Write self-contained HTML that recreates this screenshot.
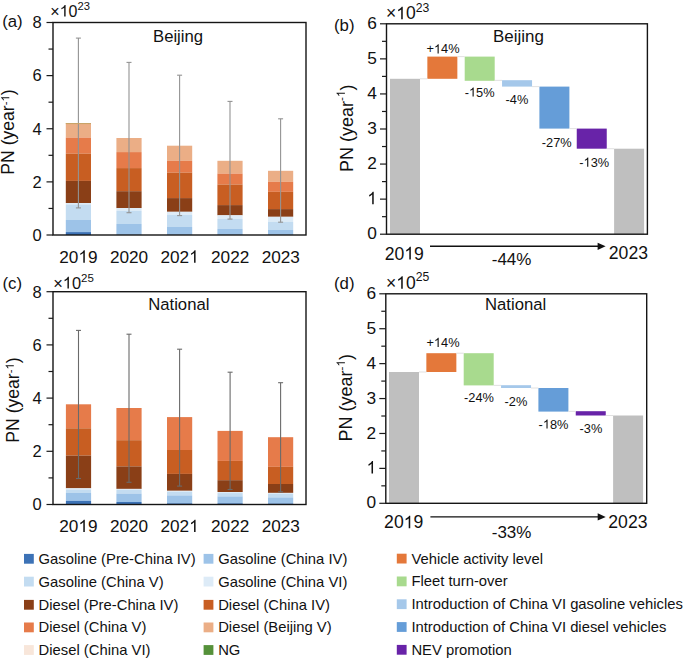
<!DOCTYPE html>
<html><head><meta charset="utf-8"><style>html,body{margin:0;padding:0;background:#fff}svg{display:block}.one{fill:transparent}</style></head><body>
<svg width="685" height="659" viewBox="0 0 685 659" font-family='"Liberation Sans", sans-serif' fill="#111">
<rect width="685" height="659" fill="#fff"/>
<rect x="65.8" y="123.00" width="25.2" height="14.60" fill="#EBAE86"/>
<rect x="65.8" y="137.60" width="25.2" height="16.10" fill="#E67B4A"/>
<rect x="65.8" y="153.70" width="25.2" height="27.20" fill="#C85E22"/>
<rect x="65.8" y="180.90" width="25.2" height="22.10" fill="#8A3F17"/>
<rect x="65.8" y="203.00" width="25.2" height="1.40" fill="#DDEBF7"/>
<rect x="65.8" y="204.40" width="25.2" height="15.60" fill="#C3DCF1"/>
<rect x="65.8" y="220.00" width="25.2" height="12.10" fill="#9DC3E8"/>
<rect x="65.8" y="232.10" width="25.2" height="2.90" fill="#3C72B6"/>
<rect x="116.4" y="138.00" width="25.2" height="14.10" fill="#EBAE86"/>
<rect x="116.4" y="152.10" width="25.2" height="16.00" fill="#E67B4A"/>
<rect x="116.4" y="168.10" width="25.2" height="23.10" fill="#C85E22"/>
<rect x="116.4" y="191.20" width="25.2" height="16.90" fill="#8A3F17"/>
<rect x="116.4" y="208.10" width="25.2" height="2.80" fill="#DDEBF7"/>
<rect x="116.4" y="210.90" width="25.2" height="13.10" fill="#C3DCF1"/>
<rect x="116.4" y="224.00" width="25.2" height="11.00" fill="#9DC3E8"/>
<rect x="167.0" y="145.70" width="25.2" height="15.10" fill="#EBAE86"/>
<rect x="167.0" y="160.80" width="25.2" height="11.80" fill="#E67B4A"/>
<rect x="167.0" y="172.60" width="25.2" height="25.50" fill="#C85E22"/>
<rect x="167.0" y="198.10" width="25.2" height="13.70" fill="#8A3F17"/>
<rect x="167.0" y="211.80" width="25.2" height="3.10" fill="#DDEBF7"/>
<rect x="167.0" y="214.90" width="25.2" height="12.00" fill="#C3DCF1"/>
<rect x="167.0" y="226.90" width="25.2" height="8.10" fill="#9DC3E8"/>
<rect x="217.4" y="160.80" width="25.2" height="12.80" fill="#EBAE86"/>
<rect x="217.4" y="173.60" width="25.2" height="10.90" fill="#E67B4A"/>
<rect x="217.4" y="184.50" width="25.2" height="20.60" fill="#C85E22"/>
<rect x="217.4" y="205.10" width="25.2" height="10.20" fill="#8A3F17"/>
<rect x="217.4" y="215.30" width="25.2" height="3.60" fill="#DDEBF7"/>
<rect x="217.4" y="218.90" width="25.2" height="9.90" fill="#C3DCF1"/>
<rect x="217.4" y="228.80" width="25.2" height="6.20" fill="#9DC3E8"/>
<rect x="268.0" y="170.80" width="25.2" height="11.00" fill="#EBAE86"/>
<rect x="268.0" y="181.80" width="25.2" height="10.00" fill="#E67B4A"/>
<rect x="268.0" y="191.80" width="25.2" height="17.30" fill="#C85E22"/>
<rect x="268.0" y="209.10" width="25.2" height="7.70" fill="#8A3F17"/>
<rect x="268.0" y="216.80" width="25.2" height="5.00" fill="#DDEBF7"/>
<rect x="268.0" y="221.80" width="25.2" height="8.10" fill="#C3DCF1"/>
<rect x="268.0" y="229.90" width="25.2" height="5.10" fill="#9DC3E8"/>
<line x1="78.4" y1="38.1" x2="78.4" y2="207.9" stroke="#939393" stroke-width="1.1"/>
<line x1="75.9" y1="38.1" x2="80.9" y2="38.1" stroke="#939393" stroke-width="1.1"/>
<line x1="75.9" y1="207.9" x2="80.9" y2="207.9" stroke="#939393" stroke-width="1.1"/>
<line x1="129.0" y1="62.4" x2="129.0" y2="212.7" stroke="#939393" stroke-width="1.1"/>
<line x1="126.5" y1="62.4" x2="131.5" y2="62.4" stroke="#939393" stroke-width="1.1"/>
<line x1="126.5" y1="212.7" x2="131.5" y2="212.7" stroke="#939393" stroke-width="1.1"/>
<line x1="179.6" y1="75.2" x2="179.6" y2="215.6" stroke="#939393" stroke-width="1.1"/>
<line x1="177.1" y1="75.2" x2="182.1" y2="75.2" stroke="#939393" stroke-width="1.1"/>
<line x1="177.1" y1="215.6" x2="182.1" y2="215.6" stroke="#939393" stroke-width="1.1"/>
<line x1="230.0" y1="101.4" x2="230.0" y2="219.1" stroke="#939393" stroke-width="1.1"/>
<line x1="227.5" y1="101.4" x2="232.5" y2="101.4" stroke="#939393" stroke-width="1.1"/>
<line x1="227.5" y1="219.1" x2="232.5" y2="219.1" stroke="#939393" stroke-width="1.1"/>
<line x1="280.6" y1="118.8" x2="280.6" y2="222.2" stroke="#939393" stroke-width="1.1"/>
<line x1="278.1" y1="118.8" x2="283.1" y2="118.8" stroke="#939393" stroke-width="1.1"/>
<line x1="278.1" y1="222.2" x2="283.1" y2="222.2" stroke="#939393" stroke-width="1.1"/>
<rect x="65.8" y="123.0" width="25.2" height="1.1" fill="#C9A468"/>
<rect x="53" y="22.5" width="253" height="212.5" fill="none" stroke="#151515" stroke-width="1.4"/>
<line x1="46.5" y1="235.00" x2="53" y2="235.00" stroke="#1a1a1a" stroke-width="1.2"/>
<text x="41.8" y="240.86" font-size="16.5" text-anchor="end" >0</text>
<line x1="46.5" y1="181.88" x2="53" y2="181.88" stroke="#1a1a1a" stroke-width="1.2"/>
<text x="41.8" y="187.73" font-size="16.5" text-anchor="end" >2</text>
<line x1="46.5" y1="128.75" x2="53" y2="128.75" stroke="#1a1a1a" stroke-width="1.2"/>
<text x="41.8" y="134.61" font-size="16.5" text-anchor="end" >4</text>
<line x1="46.5" y1="75.62" x2="53" y2="75.62" stroke="#1a1a1a" stroke-width="1.2"/>
<text x="41.8" y="81.48" font-size="16.5" text-anchor="end" >6</text>
<line x1="46.5" y1="22.50" x2="53" y2="22.50" stroke="#1a1a1a" stroke-width="1.2"/>
<text x="41.8" y="28.36" font-size="16.5" text-anchor="end" >8</text>
<line x1="48.5" y1="208.44" x2="53" y2="208.44" stroke="#1a1a1a" stroke-width="1.2"/>
<line x1="48.5" y1="155.31" x2="53" y2="155.31" stroke="#1a1a1a" stroke-width="1.2"/>
<line x1="48.5" y1="102.19" x2="53" y2="102.19" stroke="#1a1a1a" stroke-width="1.2"/>
<line x1="48.5" y1="49.06" x2="53" y2="49.06" stroke="#1a1a1a" stroke-width="1.2"/>
<text x="78.4" y="262.7" font-size="17.2" text-anchor="middle" >20<tspan class="one">1</tspan>9</text>
<text x="129.0" y="262.7" font-size="17.2" text-anchor="middle" >2020</text>
<text x="179.6" y="262.7" font-size="17.2" text-anchor="middle" >202<tspan class="one">1</tspan></text>
<text x="230.2" y="262.7" font-size="17.2" text-anchor="middle" >2022</text>
<text x="280.8" y="262.7" font-size="17.2" text-anchor="middle" >2023</text>
<text x="153.0" y="41.8" font-size="16.7" text-anchor="start" >Beijing</text>
<text x="50.3" y="16.6" font-size="16">×<tspan class="one">1</tspan>0<tspan font-size="11.2" dy="-6.7">23</tspan></text>
<text x="2.2" y="27.2" font-size="16.8" text-anchor="start" >(a)</text>
<text transform="translate(14.2,132) rotate(-90)" font-size="17.6" text-anchor="middle">PN (year<tspan font-size="11.4" dy="-4.9">-<tspan class="one">1</tspan></tspan><tspan dy="4.9">)</tspan></text>
<rect x="390.0" y="78.80" width="30" height="155.40" fill="#BFBFBF"/>
<rect x="427.35" y="56.60" width="30" height="22.20" fill="#E4783A"/>
<rect x="464.7" y="56.60" width="30" height="24.20" fill="#A8DA8E"/>
<rect x="502.05" y="80.20" width="30" height="6.40" fill="#A5C8EA"/>
<rect x="539.4" y="86.60" width="30" height="42.00" fill="#659DD8"/>
<rect x="576.75" y="128.60" width="30" height="20.10" fill="#6823A8"/>
<rect x="614.1" y="148.70" width="30" height="85.50" fill="#BFBFBF"/>
<line x1="420" y1="78.8" x2="427.4" y2="78.8" stroke="#d9d9d9" stroke-width="0.8"/>
<line x1="457.4" y1="56.6" x2="464.7" y2="56.6" stroke="#d9d9d9" stroke-width="0.8"/>
<line x1="494.7" y1="80.4" x2="502" y2="80.4" stroke="#d9d9d9" stroke-width="0.8"/>
<line x1="532" y1="86.6" x2="539.4" y2="86.6" stroke="#d9d9d9" stroke-width="0.8"/>
<line x1="569.4" y1="128.6" x2="576.7" y2="128.6" stroke="#d9d9d9" stroke-width="0.8"/>
<line x1="606.8" y1="148.7" x2="614" y2="148.7" stroke="#d9d9d9" stroke-width="0.8"/>
<rect x="386.5" y="23.8" width="260.9" height="210.39999999999998" fill="none" stroke="#151515" stroke-width="1.4"/>
<line x1="380.0" y1="234.20" x2="386.5" y2="234.20" stroke="#1a1a1a" stroke-width="1.2"/>
<text x="376.9" y="239.34" font-size="17.3" text-anchor="end" >0</text>
<line x1="380.0" y1="199.13" x2="386.5" y2="199.13" stroke="#1a1a1a" stroke-width="1.2"/>
<text x="376.9" y="204.27" font-size="17.3" text-anchor="end" ><tspan class="one">1</tspan></text>
<line x1="380.0" y1="164.07" x2="386.5" y2="164.07" stroke="#1a1a1a" stroke-width="1.2"/>
<text x="376.9" y="169.21" font-size="17.3" text-anchor="end" >2</text>
<line x1="380.0" y1="129.00" x2="386.5" y2="129.00" stroke="#1a1a1a" stroke-width="1.2"/>
<text x="376.9" y="134.14" font-size="17.3" text-anchor="end" >3</text>
<line x1="380.0" y1="93.93" x2="386.5" y2="93.93" stroke="#1a1a1a" stroke-width="1.2"/>
<text x="376.9" y="99.07" font-size="17.3" text-anchor="end" >4</text>
<line x1="380.0" y1="58.87" x2="386.5" y2="58.87" stroke="#1a1a1a" stroke-width="1.2"/>
<text x="376.9" y="64.01" font-size="17.3" text-anchor="end" >5</text>
<line x1="380.0" y1="23.80" x2="386.5" y2="23.80" stroke="#1a1a1a" stroke-width="1.2"/>
<text x="376.9" y="28.94" font-size="17.3" text-anchor="end" >6</text>
<line x1="382.0" y1="216.67" x2="386.5" y2="216.67" stroke="#1a1a1a" stroke-width="1.2"/>
<line x1="382.0" y1="181.60" x2="386.5" y2="181.60" stroke="#1a1a1a" stroke-width="1.2"/>
<line x1="382.0" y1="146.53" x2="386.5" y2="146.53" stroke="#1a1a1a" stroke-width="1.2"/>
<line x1="382.0" y1="111.47" x2="386.5" y2="111.47" stroke="#1a1a1a" stroke-width="1.2"/>
<line x1="382.0" y1="76.40" x2="386.5" y2="76.40" stroke="#1a1a1a" stroke-width="1.2"/>
<line x1="382.0" y1="41.33" x2="386.5" y2="41.33" stroke="#1a1a1a" stroke-width="1.2"/>
<text x="404.3" y="259.5" font-size="17.6" text-anchor="middle" >20<tspan class="one">1</tspan>9</text>
<text x="628.4" y="259.4" font-size="17.6" text-anchor="middle" >2023</text>
<text x="511.6" y="265" font-size="17" text-anchor="middle" >-44%</text>
<line x1="430" y1="246.3" x2="599.6" y2="246.3" stroke="#111" stroke-width="1.4"/>
<path d="M597.6,242.70000000000002 L605.6,246.3 L597.6,249.9 Z" fill="#111"/>
<text x="493.0" y="41.7" font-size="16.95" text-anchor="start" >Beijing</text>
<text x="386" y="19.2" font-size="17.5">×<tspan class="one">1</tspan>0<tspan font-size="12.2" dy="-7.3">23</tspan></text>
<text x="334" y="31.3" font-size="16.8" text-anchor="start" >(b)</text>
<text transform="translate(352.8,128.3) rotate(-90)" font-size="18" text-anchor="middle">PN (year<tspan font-size="11.7" dy="-7.9">-<tspan class="one">1</tspan></tspan><tspan dy="7.9">)</tspan></text>
<text x="443" y="53.4" font-size="12.8" text-anchor="middle" >+<tspan class="one">1</tspan>4%</text>
<text x="479.6" y="96.6" font-size="12.8" text-anchor="middle" >-<tspan class="one">1</tspan>5%</text>
<text x="517" y="104.4" font-size="12.8" text-anchor="middle" >-4%</text>
<text x="556.8" y="147" font-size="12.8" text-anchor="middle" >-27%</text>
<text x="594.2" y="166.7" font-size="12.8" text-anchor="middle" >-<tspan class="one">1</tspan>3%</text>
<rect x="65.9" y="404.30" width="25.2" height="24.00" fill="#E67B4A"/>
<rect x="65.9" y="428.30" width="25.2" height="27.30" fill="#C85E22"/>
<rect x="65.9" y="455.60" width="25.2" height="32.70" fill="#8A3F17"/>
<rect x="65.9" y="488.30" width="25.2" height="1.20" fill="#DDEBF7"/>
<rect x="65.9" y="489.50" width="25.2" height="3.50" fill="#C3DCF1"/>
<rect x="65.9" y="493.00" width="25.2" height="7.90" fill="#9DC3E8"/>
<rect x="65.9" y="500.90" width="25.2" height="3.60" fill="#3C72B6"/>
<rect x="116.4" y="408.00" width="25.2" height="32.20" fill="#E67B4A"/>
<rect x="116.4" y="440.20" width="25.2" height="26.20" fill="#C85E22"/>
<rect x="116.4" y="466.40" width="25.2" height="22.50" fill="#8A3F17"/>
<rect x="116.4" y="488.90" width="25.2" height="1.10" fill="#DDEBF7"/>
<rect x="116.4" y="490.00" width="25.2" height="3.60" fill="#C3DCF1"/>
<rect x="116.4" y="493.60" width="25.2" height="8.40" fill="#9DC3E8"/>
<rect x="116.4" y="502.00" width="25.2" height="2.50" fill="#3C72B6"/>
<rect x="167.0" y="417.10" width="25.2" height="32.90" fill="#E67B4A"/>
<rect x="167.0" y="450.00" width="25.2" height="23.90" fill="#C85E22"/>
<rect x="167.0" y="473.90" width="25.2" height="16.90" fill="#8A3F17"/>
<rect x="167.0" y="490.80" width="25.2" height="1.10" fill="#DDEBF7"/>
<rect x="167.0" y="491.90" width="25.2" height="3.50" fill="#C3DCF1"/>
<rect x="167.0" y="495.40" width="25.2" height="7.90" fill="#9DC3E8"/>
<rect x="167.0" y="503.30" width="25.2" height="1.20" fill="#3C72B6"/>
<rect x="217.5" y="430.90" width="25.2" height="30.00" fill="#E67B4A"/>
<rect x="217.5" y="460.90" width="25.2" height="19.30" fill="#C85E22"/>
<rect x="217.5" y="480.20" width="25.2" height="11.80" fill="#8A3F17"/>
<rect x="217.5" y="492.00" width="25.2" height="1.10" fill="#DDEBF7"/>
<rect x="217.5" y="493.10" width="25.2" height="3.30" fill="#C3DCF1"/>
<rect x="217.5" y="496.40" width="25.2" height="6.90" fill="#9DC3E8"/>
<rect x="217.5" y="503.30" width="25.2" height="1.20" fill="#3C72B6"/>
<rect x="268.0" y="437.20" width="25.2" height="29.60" fill="#E67B4A"/>
<rect x="268.0" y="466.80" width="25.2" height="17.20" fill="#C85E22"/>
<rect x="268.0" y="484.00" width="25.2" height="8.90" fill="#8A3F17"/>
<rect x="268.0" y="492.90" width="25.2" height="1.10" fill="#DDEBF7"/>
<rect x="268.0" y="494.00" width="25.2" height="3.40" fill="#C3DCF1"/>
<rect x="268.0" y="497.40" width="25.2" height="6.10" fill="#9DC3E8"/>
<rect x="268.0" y="503.50" width="25.2" height="1.00" fill="#3C72B6"/>
<line x1="78.5" y1="330.4" x2="78.5" y2="478.5" stroke="#6a6a6a" stroke-width="1.1"/>
<line x1="76.0" y1="330.4" x2="81.0" y2="330.4" stroke="#6a6a6a" stroke-width="1.1"/>
<line x1="76.0" y1="478.5" x2="81.0" y2="478.5" stroke="#6a6a6a" stroke-width="1.1"/>
<line x1="129.0" y1="334.2" x2="129.0" y2="482.3" stroke="#6a6a6a" stroke-width="1.1"/>
<line x1="126.5" y1="334.2" x2="131.5" y2="334.2" stroke="#6a6a6a" stroke-width="1.1"/>
<line x1="126.5" y1="482.3" x2="131.5" y2="482.3" stroke="#6a6a6a" stroke-width="1.1"/>
<line x1="179.6" y1="349.2" x2="179.6" y2="486.1" stroke="#6a6a6a" stroke-width="1.1"/>
<line x1="177.1" y1="349.2" x2="182.1" y2="349.2" stroke="#6a6a6a" stroke-width="1.1"/>
<line x1="177.1" y1="486.1" x2="182.1" y2="486.1" stroke="#6a6a6a" stroke-width="1.1"/>
<line x1="230.1" y1="372.2" x2="230.1" y2="489.5" stroke="#6a6a6a" stroke-width="1.1"/>
<line x1="227.6" y1="372.2" x2="232.6" y2="372.2" stroke="#6a6a6a" stroke-width="1.1"/>
<line x1="227.6" y1="489.5" x2="232.6" y2="489.5" stroke="#6a6a6a" stroke-width="1.1"/>
<line x1="280.6" y1="382.7" x2="280.6" y2="491.9" stroke="#6a6a6a" stroke-width="1.1"/>
<line x1="278.1" y1="382.7" x2="283.1" y2="382.7" stroke="#6a6a6a" stroke-width="1.1"/>
<line x1="278.1" y1="491.9" x2="283.1" y2="491.9" stroke="#6a6a6a" stroke-width="1.1"/>
<rect x="53" y="291.7" width="253" height="212.8" fill="none" stroke="#151515" stroke-width="1.4"/>
<line x1="46.5" y1="504.50" x2="53" y2="504.50" stroke="#1a1a1a" stroke-width="1.2"/>
<text x="41.8" y="510.36" font-size="16.5" text-anchor="end" >0</text>
<line x1="46.5" y1="451.30" x2="53" y2="451.30" stroke="#1a1a1a" stroke-width="1.2"/>
<text x="41.8" y="457.16" font-size="16.5" text-anchor="end" >2</text>
<line x1="46.5" y1="398.10" x2="53" y2="398.10" stroke="#1a1a1a" stroke-width="1.2"/>
<text x="41.8" y="403.96" font-size="16.5" text-anchor="end" >4</text>
<line x1="46.5" y1="344.90" x2="53" y2="344.90" stroke="#1a1a1a" stroke-width="1.2"/>
<text x="41.8" y="350.76" font-size="16.5" text-anchor="end" >6</text>
<line x1="46.5" y1="291.70" x2="53" y2="291.70" stroke="#1a1a1a" stroke-width="1.2"/>
<text x="41.8" y="297.56" font-size="16.5" text-anchor="end" >8</text>
<line x1="48.5" y1="477.90" x2="53" y2="477.90" stroke="#1a1a1a" stroke-width="1.2"/>
<line x1="48.5" y1="424.70" x2="53" y2="424.70" stroke="#1a1a1a" stroke-width="1.2"/>
<line x1="48.5" y1="371.50" x2="53" y2="371.50" stroke="#1a1a1a" stroke-width="1.2"/>
<line x1="48.5" y1="318.30" x2="53" y2="318.30" stroke="#1a1a1a" stroke-width="1.2"/>
<text x="78.4" y="532" font-size="17.2" text-anchor="middle" >20<tspan class="one">1</tspan>9</text>
<text x="129.0" y="532" font-size="17.2" text-anchor="middle" >2020</text>
<text x="179.6" y="532" font-size="17.2" text-anchor="middle" >202<tspan class="one">1</tspan></text>
<text x="230.2" y="532" font-size="17.2" text-anchor="middle" >2022</text>
<text x="280.8" y="532" font-size="17.2" text-anchor="middle" >2023</text>
<text x="148.2" y="310" font-size="16.7" text-anchor="start" >National</text>
<text x="53.2" y="288.6" font-size="16.4">×<tspan class="one">1</tspan>0<tspan font-size="11.5" dy="-6.9">25</tspan></text>
<text x="2.5" y="288.5" font-size="16.8" text-anchor="start" >(c)</text>
<text transform="translate(18.7,400.0) rotate(-90)" font-size="17.6" text-anchor="middle">PN (year<tspan font-size="11.4" dy="-4.9">-<tspan class="one">1</tspan></tspan><tspan dy="4.9">)</tspan></text>
<rect x="389.0" y="372.00" width="30" height="131.30" fill="#BFBFBF"/>
<rect x="426.35" y="353.20" width="30" height="18.80" fill="#E4783A"/>
<rect x="463.7" y="353.20" width="30" height="32.20" fill="#A8DA8E"/>
<rect x="501.05" y="385.20" width="30" height="2.80" fill="#A5C8EA"/>
<rect x="538.4" y="388.00" width="30" height="23.60" fill="#659DD8"/>
<rect x="575.75" y="411.20" width="30" height="4.30" fill="#6823A8"/>
<rect x="613.1" y="415.50" width="30" height="87.80" fill="#BFBFBF"/>
<line x1="419" y1="372.0" x2="426.4" y2="372.0" stroke="#d9d9d9" stroke-width="0.8"/>
<line x1="456.4" y1="353.2" x2="463.7" y2="353.2" stroke="#d9d9d9" stroke-width="0.8"/>
<line x1="493.7" y1="385.4" x2="501" y2="385.4" stroke="#d9d9d9" stroke-width="0.8"/>
<line x1="531" y1="388.0" x2="538.4" y2="388.0" stroke="#d9d9d9" stroke-width="0.8"/>
<line x1="568.4" y1="411.4" x2="575.7" y2="411.4" stroke="#d9d9d9" stroke-width="0.8"/>
<line x1="605.8" y1="415.5" x2="613" y2="415.5" stroke="#d9d9d9" stroke-width="0.8"/>
<rect x="385.8" y="293.8" width="260.90000000000003" height="209.5" fill="none" stroke="#151515" stroke-width="1.4"/>
<line x1="379.3" y1="503.30" x2="385.8" y2="503.30" stroke="#1a1a1a" stroke-width="1.2"/>
<text x="376.2" y="508.44" font-size="17.3" text-anchor="end" >0</text>
<line x1="379.3" y1="468.38" x2="385.8" y2="468.38" stroke="#1a1a1a" stroke-width="1.2"/>
<text x="376.2" y="473.52" font-size="17.3" text-anchor="end" ><tspan class="one">1</tspan></text>
<line x1="379.3" y1="433.47" x2="385.8" y2="433.47" stroke="#1a1a1a" stroke-width="1.2"/>
<text x="376.2" y="438.61" font-size="17.3" text-anchor="end" >2</text>
<line x1="379.3" y1="398.55" x2="385.8" y2="398.55" stroke="#1a1a1a" stroke-width="1.2"/>
<text x="376.2" y="403.69" font-size="17.3" text-anchor="end" >3</text>
<line x1="379.3" y1="363.63" x2="385.8" y2="363.63" stroke="#1a1a1a" stroke-width="1.2"/>
<text x="376.2" y="368.77" font-size="17.3" text-anchor="end" >4</text>
<line x1="379.3" y1="328.72" x2="385.8" y2="328.72" stroke="#1a1a1a" stroke-width="1.2"/>
<text x="376.2" y="333.86" font-size="17.3" text-anchor="end" >5</text>
<line x1="379.3" y1="293.80" x2="385.8" y2="293.80" stroke="#1a1a1a" stroke-width="1.2"/>
<text x="376.2" y="298.94" font-size="17.3" text-anchor="end" >6</text>
<line x1="381.3" y1="485.84" x2="385.8" y2="485.84" stroke="#1a1a1a" stroke-width="1.2"/>
<line x1="381.3" y1="450.93" x2="385.8" y2="450.93" stroke="#1a1a1a" stroke-width="1.2"/>
<line x1="381.3" y1="416.01" x2="385.8" y2="416.01" stroke="#1a1a1a" stroke-width="1.2"/>
<line x1="381.3" y1="381.09" x2="385.8" y2="381.09" stroke="#1a1a1a" stroke-width="1.2"/>
<line x1="381.3" y1="346.18" x2="385.8" y2="346.18" stroke="#1a1a1a" stroke-width="1.2"/>
<line x1="381.3" y1="311.26" x2="385.8" y2="311.26" stroke="#1a1a1a" stroke-width="1.2"/>
<text x="403.7" y="528.3" font-size="17.6" text-anchor="middle" >20<tspan class="one">1</tspan>9</text>
<text x="627.9" y="528.4" font-size="17.6" text-anchor="middle" >2023</text>
<text x="511.6" y="537.6" font-size="17" text-anchor="middle" >-33%</text>
<line x1="430.4" y1="516.9" x2="599.7" y2="516.9" stroke="#111" stroke-width="1.4"/>
<path d="M597.7,513.3 L605.7,516.9 L597.7,520.5 Z" fill="#111"/>
<text x="485.0" y="310.2" font-size="16.7" text-anchor="start" >National</text>
<text x="386" y="288.7" font-size="17.5">×<tspan class="one">1</tspan>0<tspan font-size="12.2" dy="-7.3">25</tspan></text>
<text x="334" y="288.5" font-size="16.8" text-anchor="start" >(d)</text>
<text transform="translate(351.9,397.8) rotate(-90)" font-size="18" text-anchor="middle">PN (year<tspan font-size="11.7" dy="-7.0">-<tspan class="one">1</tspan></tspan><tspan dy="7.0">)</tspan></text>
<text x="443" y="347" font-size="12.8" text-anchor="middle" >+<tspan class="one">1</tspan>4%</text>
<text x="479" y="401.5" font-size="12.8" text-anchor="middle" >-24%</text>
<text x="516" y="405.6" font-size="12.8" text-anchor="middle" >-2%</text>
<text x="553.5" y="428.6" font-size="12.8" text-anchor="middle" >-<tspan class="one">1</tspan>8%</text>
<text x="591" y="433" font-size="12.8" text-anchor="middle" >-3%</text>
<rect x="24" y="553.9" width="9.8" height="9.8" fill="#3C72B6"/>
<text x="38.6" y="563.8" font-size="14.8" text-anchor="start" >Gasoline (Pre-China IV)</text>
<rect x="203.6" y="553.9" width="9.8" height="9.8" fill="#9DC3E8"/>
<text x="218.2" y="563.8" font-size="14.8" text-anchor="start" >Gasoline (China IV)</text>
<rect x="24" y="576.7" width="9.8" height="9.8" fill="#C3DCF1"/>
<text x="38.6" y="586.6" font-size="14.8" text-anchor="start" >Gasoline (China V)</text>
<rect x="203.6" y="576.7" width="9.8" height="9.8" fill="#DDEBF7"/>
<text x="218.2" y="586.6" font-size="14.8" text-anchor="start" >Gasoline (China VI)</text>
<rect x="24" y="599.9" width="9.8" height="9.8" fill="#8A3F17"/>
<text x="38.6" y="609.8" font-size="14.8" text-anchor="start" >Diesel (Pre-China IV)</text>
<rect x="203.6" y="599.9" width="9.8" height="9.8" fill="#C85E22"/>
<text x="218.2" y="609.8" font-size="14.8" text-anchor="start" >Diesel (China IV)</text>
<rect x="24" y="622.5" width="9.8" height="9.8" fill="#E67B4A"/>
<text x="38.6" y="632.4" font-size="14.8" text-anchor="start" >Diesel (China V)</text>
<rect x="203.6" y="622.5" width="9.8" height="9.8" fill="#EBAE86"/>
<text x="218.2" y="632.4" font-size="14.8" text-anchor="start" >Diesel (Beijing V)</text>
<rect x="24" y="645.1" width="9.8" height="9.8" fill="#F8E6DA"/>
<text x="38.6" y="655.0" font-size="14.8" text-anchor="start" >Diesel (China VI)</text>
<rect x="203.6" y="645.1" width="9.8" height="9.8" fill="#55913A"/>
<text x="218.2" y="655.0" font-size="14.8" text-anchor="start" >NG</text>
<rect x="396.8" y="553.7" width="9.8" height="9.8" fill="#E4783A"/>
<text x="411.4" y="563.6" font-size="14.8" text-anchor="start" >Vehicle activity level</text>
<rect x="396.8" y="576.5" width="9.8" height="9.8" fill="#A8DA8E"/>
<text x="411.4" y="586.4" font-size="14.8" text-anchor="start" >Fleet turn-over</text>
<rect x="396.8" y="599.3" width="9.8" height="9.8" fill="#A5C8EA"/>
<text x="411.4" y="609.2" font-size="14.8" text-anchor="start" >Introduction of China VI gasoline vehicles</text>
<rect x="396.8" y="622.1" width="9.8" height="9.8" fill="#659DD8"/>
<text x="411.4" y="632.0" font-size="14.8" text-anchor="start" >Introduction of China VI diesel vehicles</text>
<rect x="396.8" y="644.9" width="9.8" height="9.8" fill="#6823A8"/>
<text x="411.4" y="654.8" font-size="14.8" text-anchor="start" >NEV promotion</text>
<g fill="#111">
<path transform=" translate(78.40,262.70) scale(0.00840,-0.00840)" d="M763 0H583V1147Q518 1085 412.5 1023T223 930V1104Q374 1175 487 1276T647 1472H763V0Z"/>
<path transform=" translate(189.16,262.70) scale(0.00840,-0.00840)" d="M763 0H583V1147Q518 1085 412.5 1023T223 930V1104Q374 1175 487 1276T647 1472H763V0Z"/>
<path transform=" translate(59.64,16.60) scale(0.00781,-0.00781)" d="M763 0H583V1147Q518 1085 412.5 1023T223 930V1104Q374 1175 487 1276T647 1472H763V0Z"/>
<path transform="translate(14.2,132) rotate(-90) translate(30.51,-4.90) scale(0.00557,-0.00557)" d="M763 0H583V1147Q518 1085 412.5 1023T223 930V1104Q374 1175 487 1276T647 1472H763V0Z"/>
<path transform=" translate(367.27,204.27) scale(0.00845,-0.00845)" d="M763 0H583V1147Q518 1085 412.5 1023T223 930V1104Q374 1175 487 1276T647 1472H763V0Z"/>
<path transform=" translate(404.29,259.50) scale(0.00859,-0.00859)" d="M763 0H583V1147Q518 1085 412.5 1023T223 930V1104Q374 1175 487 1276T647 1472H763V0Z"/>
<path transform=" translate(396.23,19.20) scale(0.00854,-0.00854)" d="M763 0H583V1147Q518 1085 412.5 1023T223 930V1104Q374 1175 487 1276T647 1472H763V0Z"/>
<path transform="translate(352.8,128.3) rotate(-90) translate(31.20,-7.90) scale(0.00571,-0.00571)" d="M763 0H583V1147Q518 1085 412.5 1023T223 930V1104Q374 1175 487 1276T647 1472H763V0Z"/>
<path transform=" translate(433.93,53.40) scale(0.00625,-0.00625)" d="M763 0H583V1147Q518 1085 412.5 1023T223 930V1104Q374 1175 487 1276T647 1472H763V0Z"/>
<path transform=" translate(468.92,96.60) scale(0.00625,-0.00625)" d="M763 0H583V1147Q518 1085 412.5 1023T223 930V1104Q374 1175 487 1276T647 1472H763V0Z"/>
<path transform=" translate(583.52,166.70) scale(0.00625,-0.00625)" d="M763 0H583V1147Q518 1085 412.5 1023T223 930V1104Q374 1175 487 1276T647 1472H763V0Z"/>
<path transform=" translate(78.40,532.00) scale(0.00840,-0.00840)" d="M763 0H583V1147Q518 1085 412.5 1023T223 930V1104Q374 1175 487 1276T647 1472H763V0Z"/>
<path transform=" translate(189.16,532.00) scale(0.00840,-0.00840)" d="M763 0H583V1147Q518 1085 412.5 1023T223 930V1104Q374 1175 487 1276T647 1472H763V0Z"/>
<path transform=" translate(62.78,288.60) scale(0.00801,-0.00801)" d="M763 0H583V1147Q518 1085 412.5 1023T223 930V1104Q374 1175 487 1276T647 1472H763V0Z"/>
<path transform="translate(18.7,400.0) rotate(-90) translate(30.51,-4.90) scale(0.00557,-0.00557)" d="M763 0H583V1147Q518 1085 412.5 1023T223 930V1104Q374 1175 487 1276T647 1472H763V0Z"/>
<path transform=" translate(366.58,473.52) scale(0.00845,-0.00845)" d="M763 0H583V1147Q518 1085 412.5 1023T223 930V1104Q374 1175 487 1276T647 1472H763V0Z"/>
<path transform=" translate(403.69,528.30) scale(0.00859,-0.00859)" d="M763 0H583V1147Q518 1085 412.5 1023T223 930V1104Q374 1175 487 1276T647 1472H763V0Z"/>
<path transform=" translate(396.23,288.70) scale(0.00854,-0.00854)" d="M763 0H583V1147Q518 1085 412.5 1023T223 930V1104Q374 1175 487 1276T647 1472H763V0Z"/>
<path transform="translate(351.9,397.8) rotate(-90) translate(31.20,-7.00) scale(0.00571,-0.00571)" d="M763 0H583V1147Q518 1085 412.5 1023T223 930V1104Q374 1175 487 1276T647 1472H763V0Z"/>
<path transform=" translate(433.93,347.00) scale(0.00625,-0.00625)" d="M763 0H583V1147Q518 1085 412.5 1023T223 930V1104Q374 1175 487 1276T647 1472H763V0Z"/>
<path transform=" translate(542.82,428.60) scale(0.00625,-0.00625)" d="M763 0H583V1147Q518 1085 412.5 1023T223 930V1104Q374 1175 487 1276T647 1472H763V0Z"/>
</g>
</svg>
</body></html>
